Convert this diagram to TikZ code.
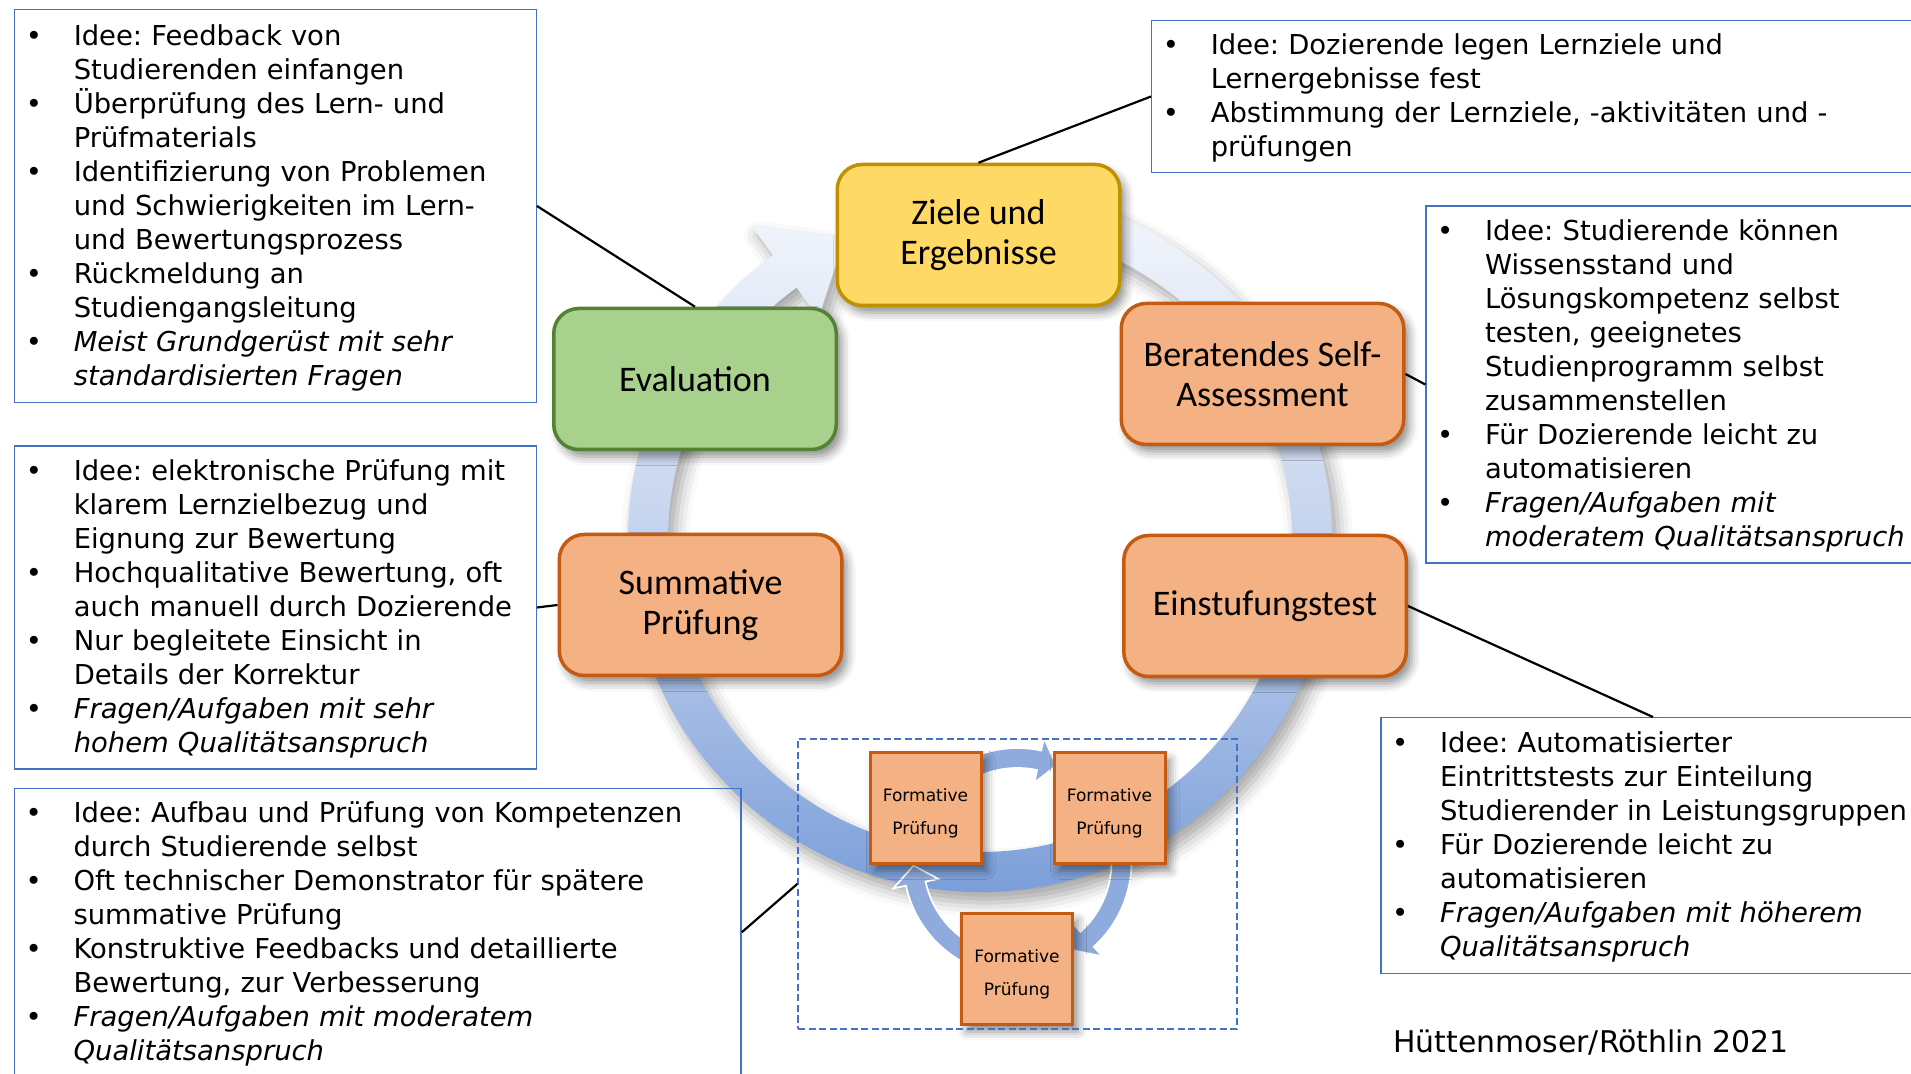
\documentclass[tikz,border=0pt]{standalone}
\usepackage{fontspec}
\setmainfont{DejaVu Sans}
\newfontfamily\phasefont{Carlito}
\usepackage{enumitem}
\usetikzlibrary{shadows.blur}
\frenchspacing

\definecolor{zielfill}{HTML}{FFD966}
\definecolor{zieldraw}{HTML}{BF9000}
\definecolor{evalfill}{HTML}{A9D18E}
\definecolor{evaldraw}{HTML}{548235}
\definecolor{prueffill}{HTML}{F4B183}
\definecolor{pruefdraw}{HTML}{C55A11}
\definecolor{infodraw}{HTML}{4472C4}
\definecolor{ringtop}{HTML}{F2F5FB}
\definecolor{ringmid}{HTML}{BFCFEC}
\definecolor{ringbot}{HTML}{7298D7}
\definecolor{loopfill}{HTML}{8FAADC}

\setlist[itemize]{label=\textbullet, nosep, leftmargin=1.02cm, labelwidth=0.5cm, labelsep=0.46cm, align=left}
% extra room below a list, lifts the text a little inside its box
\newcommand{\listpad}{\par\vspace{0.2cm}\hrule height 0pt width 0pt}
\newcommand{\formtext}{\rule{0pt}{13pt}Formative\\Prüfung}

\tikzset{
  softshadow/.style={blur shadow={shadow xshift=3pt, shadow yshift=-4pt, shadow blur radius=5pt, shadow opacity=45}},
  phase/.style={draw, line width=2pt, rounded corners=0.5cm, minimum width=5.65cm, minimum height=2.82cm,
    align=center, font=\phasefont\fontsize{20.5}{22.8}\selectfont, softshadow},
  formbox/.style={draw=pruefdraw, fill=prueffill, line width=1.7pt, minimum size=2.22cm, inner sep=0pt,
    align=center, font=\fontsize{9.7}{18.8}\selectfont, softshadow},
  info/.style={draw=infodraw, line width=0.8pt, inner xsep=0.16cm, inner ysep=0pt, align=left,
    font=\fontsize{15.6}{19.35}\selectfont},
  link/.style={line width=1.25pt},
  loop/.style={fill=loopfill, draw=white, line width=1pt},
}

\begin{document}
\begin{tikzpicture}
  \useasboundingbox (0,0) rectangle (38.22,21.48);

  % big cycle arrow, tail hidden under the goals box
  \begin{scope}[shift={(19.6,10.68)}]
    \path[shade, top color=ringtop, bottom color=ringbot, middle color=ringmid,
      blur shadow={shadow xshift=4pt, shadow yshift=-6pt, shadow blur radius=8pt, shadow opacity=35}]
      (70:7.04) arc[start angle=70, end angle=-234, radius=7.04]
      -- (-234:7.79) -- (-246:6.64) -- (-234:5.49) -- (-234:6.24)
      arc[start angle=-234, end angle=70, radius=6.24] -- cycle;
  \end{scope}

  % small loop of formative exams
  \begin{scope}[shift={(20.35,4.24)}]
    \path[loop] (112:2.28) arc[start angle=112, end angle=78, radius=2.28]
      -- (78:2.54) -- (68:2.08) -- (78:1.62) -- (78:1.88)
      arc[start angle=78, end angle=112, radius=1.88] -- cycle;
    \path[loop] (5:2.28) arc[start angle=5, end angle=-48, radius=2.28]
      -- (-48:2.54) -- (-58:2.08) -- (-48:1.62) -- (-48:1.88)
      arc[start angle=-48, end angle=5, radius=1.88] -- cycle;
    \path[loop] (240:2.28) arc[start angle=240, end angle=192, radius=2.28]
      -- (192:2.54) -- (182:2.08) -- (192:1.62) -- (192:1.88)
      arc[start angle=192, end angle=240, radius=1.88] -- cycle;
  \end{scope}

  \node[formbox] (fp1) at (18.51,5.32) {\formtext};
  \node[formbox] (fp2) at (22.19,5.32) {\formtext};
  \node[formbox] (fp3) at (20.34,2.10) {\formtext};
  \node[draw=infodraw, dashed, dash pattern=on 4pt off 2pt, line width=0.85pt,
    minimum width=8.78cm, minimum height=5.8cm] (formativ) at (20.35,3.80) {};

  % phases of the cycle
  \node[phase, draw=zieldraw, fill=zielfill] (ziele) at (19.57,16.78) {Ziele und\\Ergebnisse};
  \node[phase, draw=evaldraw, fill=evalfill] (eval) at (13.90,13.90) {Evaluation};
  \node[phase, draw=pruefdraw, fill=prueffill] (self) at (25.25,14.00) {Beratendes Self-\\Assessment};
  \node[phase, draw=pruefdraw, fill=prueffill] (summ) at (14.01,9.38) {Summative\\Prüfung};
  \node[phase, draw=pruefdraw, fill=prueffill] (einst) at (25.30,9.36) {Einstufungstest};

  % explanations
  \node[info, minimum width=10.43cm, text width=10.11cm, minimum height=7.85cm] (eval-info) at (5.51,17.36) {%
    \begin{itemize}
      \item Idee: Feedback von\newline Studierenden einfangen
      \item Überprüfung des Lern- und\newline Prüfmaterials
      \item Identifizierung von Problemen\newline und Schwierigkeiten im Lern-\newline und Bewertungsprozess
      \item Rückmeldung an\newline Studiengangsleitung
      \item \textit{Meist Grundgerüst mit sehr\newline standardisierten Fragen}
    \end{itemize}\listpad};
  \node[info, minimum width=15.47cm, text width=15.15cm, minimum height=3.02cm] (ziele-info) at (30.77,19.55) {%
    \begin{itemize}
      \item Idee: Dozierende legen Lernziele und\newline Lernergebnisse fest
      \item Abstimmung der Lernziele, -aktivitäten und -\newline prüfungen
    \end{itemize}\listpad};
  \node[info, minimum width=9.98cm, text width=9.66cm, minimum height=7.14cm] (self-info) at (33.51,13.79) {%
    \begin{itemize}
      \item Idee: Studierende können\newline Wissensstand und\newline Lösungskompetenz selbst\newline testen, geeignetes\newline Studienprogramm selbst\newline zusammenstellen
      \item Für Dozierende leicht zu\newline automatisieren
      \item \textit{Fragen/Aufgaben mit\newline moderatem Qualitätsanspruch}
    \end{itemize}\listpad};
  \node[info, minimum width=10.88cm, text width=10.56cm, minimum height=5.12cm] (einst-info) at (33.06,4.565) {%
    \begin{itemize}
      \item Idee: Automatisierter\newline Eintrittstests zur Einteilung\newline Studierender in Leistungsgruppen
      \item Für Dozierende leicht zu\newline automatisieren
      \item \textit{Fragen/Aufgaben mit höherem\newline Qualitätsanspruch}
    \end{itemize}\listpad};
  \node[info, minimum width=10.43cm, text width=10.11cm, minimum height=6.46cm] (summ-info) at (5.51,9.33) {%
    \begin{itemize}
      \item Idee: elektronische Prüfung mit\newline klarem Lernzielbezug und\newline Eignung zur Bewertung
      \item Hochqualitative Bewertung, oft\newline auch manuell durch Dozierende
      \item Nur begleitete Einsicht in\newline Details der Korrektur
      \item \textit{Fragen/Aufgaben mit sehr\newline hohem Qualitätsanspruch}
    \end{itemize}\listpad};
  \node[info, minimum width=14.53cm, text width=14.21cm, minimum height=5.75cm] (form-info) at (7.556,2.834) {%
    \begin{itemize}
      \item Idee: Aufbau und Prüfung von Kompetenzen\newline durch Studierende selbst
      \item Oft technischer Demonstrator für spätere\newline summative Prüfung
      \item Konstruktive Feedbacks und detaillierte\newline Bewertung, zur Verbesserung
      \item \textit{Fragen/Aufgaben mit moderatem\newline Qualitätsanspruch}
    \end{itemize}\listpad};

  \draw[link] (ziele.north) -- (ziele-info.west);
  \draw[link] (eval.north) -- (eval-info.east);
  \draw[link] (self.east) -- (self-info.west);
  \draw[link] (summ.west) -- (summ-info.east);
  \draw[link] (einst.east) -- (einst-info.north);
  \draw[link] (formativ.west) -- (form-info.east);

  \node[anchor=west, font=\fontsize{17}{20}\selectfont] (credit) at (27.74,0.62) {Hüttenmoser/Röthlin 2021};
\end{tikzpicture}
\end{document}
